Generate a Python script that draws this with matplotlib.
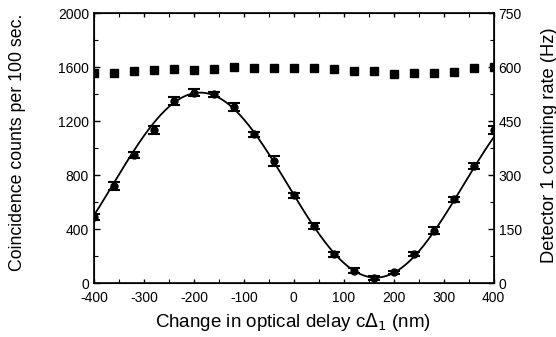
import numpy as np
import matplotlib
matplotlib.use('Agg')
import matplotlib.pyplot as plt
from matplotlib.ticker import MultipleLocator

plt.rcParams['font.family'] = ['Liberation Sans', 'DejaVu Sans']
plt.rcParams['axes.unicode_minus'] = False

# delay positions (nm)
delay = [-400, -360, -320, -280, -240, -200, -160, -120, -80, -40, 0,
         40, 80, 120, 160, 200, 240, 280, 320, 360, 400]
# coincidence counts per 100 s
coinc = [491, 718, 948, 1133, 1351, 1412, 1398, 1306, 1101, 904, 652,
         422, 212, 91, 37, 79, 215, 388, 620, 867, 1133]
coinc_err = [22, 30, 22, 32, 28, 24, 20, 28, 20, 38, 18,
             22, 16, 20, 12, 14, 16, 24, 18, 20, 30]
# detector 1 singles rate (Hz)
singles = [584, 584, 590, 592, 596, 592, 594, 599, 598, 598, 598,
           598, 594, 590, 589, 580, 585, 585, 586, 597, 601]

wavelength = 702.0  # nm, period of the fitted fringe

# least-squares fit  A + B cos(kx) + C sin(kx)
x = np.asarray(delay, float)
y = np.asarray(coinc, float)
k = 2 * np.pi / wavelength
M = np.column_stack([np.ones_like(x), np.cos(k * x), np.sin(k * x)])
coef, *_ = np.linalg.lstsq(M, y, rcond=None)
xf = np.linspace(-400, 400, 400)
yf = coef[0] + coef[1] * np.cos(k * xf) + coef[2] * np.sin(k * xf)

fig = plt.figure(figsize=(5.56, 3.37), dpi=100)
ax = fig.add_axes([0.169, 0.160, 0.719, 0.801])

ax.plot(xf, yf, color='black', lw=1.3)
ax.errorbar(delay, coinc, yerr=coinc_err, fmt='o', color='black', ms=5,
            capsize=4, elinewidth=1.2, capthick=1.5)

ax.set_xlim(-400, 400)
ax.set_ylim(0, 2000)
ax.xaxis.set_major_locator(MultipleLocator(100))
ax.xaxis.set_minor_locator(MultipleLocator(50))
ax.yaxis.set_major_locator(MultipleLocator(400))
ax.yaxis.set_minor_locator(MultipleLocator(200))
ax.tick_params(which='both', direction='in', top=True, labelsize=10)
ax.tick_params(which='major', length=4, width=1)
ax.tick_params(which='minor', length=3, width=0.8)
ax.tick_params(axis='x', which='major', length=3, pad=6)
for s in ax.spines.values():
    s.set_linewidth(1.2)

ax2 = ax.twinx()
ax2.plot(delay, singles, 's', color='black', ms=5.2)
ax2.set_ylim(0, 750)
ax2.yaxis.set_major_locator(MultipleLocator(150))
ax2.yaxis.set_minor_locator(MultipleLocator(75))
ax2.tick_params(which='both', direction='in', labelsize=10)
ax2.tick_params(which='major', length=4, width=1)
ax2.tick_params(which='minor', length=3, width=0.8)

# axis titles placed in figure coordinates
fig.text(293 / 556, 1 - 322 / 337, 'Change in optical delay c$\\Delta_1$ (nm)',
         fontsize=13.5, ha='center', va='center')
fig.text(18 / 556, 1 - 142 / 337, 'Coincidence counts per 100 sec.',
         fontsize=12.8, rotation=90, ha='center', va='center')
fig.text(549 / 556, 1 - 145 / 337, 'Detector 1 counting rate (Hz)',
         fontsize=13.2, rotation=90, ha='center', va='center')

fig.savefig('out.png', dpi=100)
